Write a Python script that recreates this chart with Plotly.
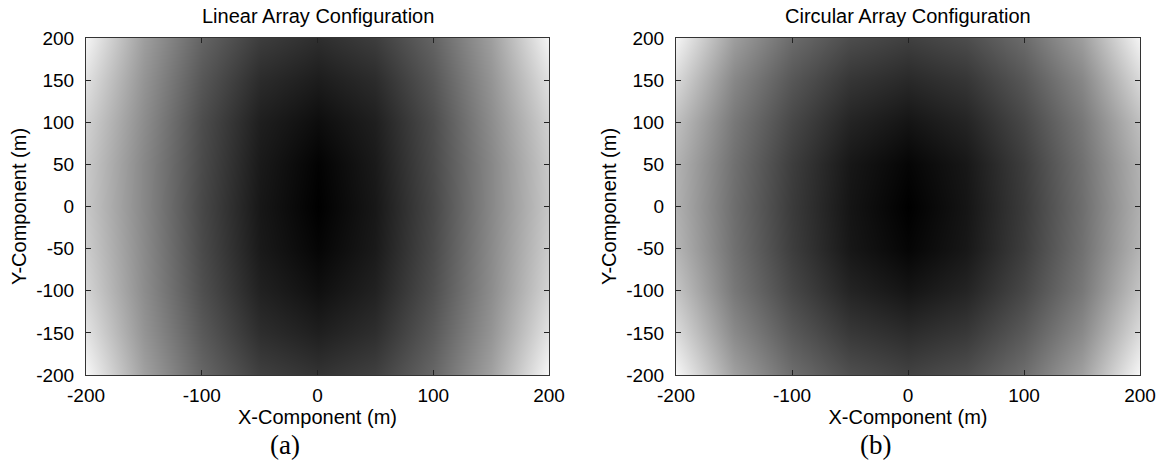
import plotly.graph_objects as go

# grid coordinates (m)
x_m = [-200, -150, -100, -50, 0, 50, 100, 150, 200]
y_m = [-200, -150, -100, -50, 0, 50, 100, 150, 200]

x_ticks = [-200, -100, 0, 100, 200]
x_tick_text = ["-200", "-100", "0", "100", "200"]
y_ticks = [-200, -150, -100, -50, 0, 50, 100, 150, 200]
y_tick_text = ["-200", "-150", "-100", "-50", "0", "50", "100", "150", "200"]

# (a) Linear array: normalised grey level, rows from y=-200 to y=200
lin_y_m200 = [0.97, 0.63, 0.40, 0.25, 0.20, 0.25, 0.40, 0.63, 0.97]
lin_y_m150 = [0.89, 0.58, 0.35, 0.18, 0.12, 0.18, 0.35, 0.58, 0.89]
lin_y_m100 = [0.83, 0.55, 0.31, 0.13, 0.06, 0.13, 0.31, 0.55, 0.83]
lin_y_m50  = [0.80, 0.54, 0.29, 0.10, 0.02, 0.10, 0.29, 0.54, 0.80]
lin_y_0    = [0.78, 0.53, 0.28, 0.09, 0.00, 0.09, 0.28, 0.53, 0.78]
lin_y_50   = [0.79, 0.53, 0.29, 0.10, 0.01, 0.10, 0.29, 0.53, 0.79]
lin_y_100  = [0.82, 0.55, 0.30, 0.12, 0.05, 0.12, 0.30, 0.55, 0.82]
lin_y_150  = [0.88, 0.58, 0.34, 0.17, 0.11, 0.17, 0.34, 0.58, 0.88]
lin_y_200  = [0.96, 0.62, 0.39, 0.24, 0.18, 0.24, 0.39, 0.62, 0.96]

# (b) Circular array
cir_y_m200 = [0.97, 0.63, 0.43, 0.31, 0.26, 0.31, 0.43, 0.63, 0.97]
cir_y_m150 = [0.86, 0.54, 0.35, 0.22, 0.17, 0.22, 0.35, 0.54, 0.86]
cir_y_m100 = [0.77, 0.47, 0.28, 0.14, 0.08, 0.14, 0.28, 0.47, 0.77]
cir_y_m50  = [0.71, 0.44, 0.24, 0.09, 0.02, 0.09, 0.24, 0.44, 0.71]
cir_y_0    = [0.69, 0.43, 0.23, 0.08, 0.00, 0.08, 0.23, 0.43, 0.69]
cir_y_50   = [0.70, 0.44, 0.24, 0.09, 0.02, 0.09, 0.24, 0.44, 0.70]
cir_y_100  = [0.75, 0.47, 0.28, 0.14, 0.08, 0.14, 0.28, 0.47, 0.75]
cir_y_150  = [0.85, 0.53, 0.34, 0.21, 0.16, 0.21, 0.34, 0.53, 0.85]
cir_y_200  = [0.96, 0.62, 0.42, 0.30, 0.25, 0.30, 0.42, 0.62, 0.96]

linear_z = [lin_y_m200, lin_y_m150, lin_y_m100, lin_y_m50, lin_y_0,
            lin_y_50, lin_y_100, lin_y_150, lin_y_200]
circular_z = [cir_y_m200, cir_y_m150, cir_y_m100, cir_y_m50, cir_y_0,
              cir_y_50, cir_y_100, cir_y_150, cir_y_200]

titles = ["Linear Array Configuration", "Circular Array Configuration"]
labels = ["(a)", "(b)"]

W, H = 1162, 465
gray = [[0, "rgb(0,0,0)"], [1, "rgb(255,255,255)"]]
FONT = "Liberation Sans, Arial, sans-serif"


def px_x(p):
    return p / W


def px_y(p):
    return (H - p) / H


fig = go.Figure()
fig.add_trace(go.Heatmap(x=x_m, y=y_m, z=linear_z, colorscale=gray, zmin=0, zmax=1,
                         zsmooth="best", showscale=False, xaxis="x", yaxis="y",
                         hoverinfo="skip"))
fig.add_trace(go.Heatmap(x=x_m, y=y_m, z=circular_z, colorscale=gray, zmin=0, zmax=1,
                         zsmooth="best", showscale=False, xaxis="x2", yaxis="y2",
                         hoverinfo="skip"))

dom_y = [px_y(375), px_y(38)]
dom_x1 = [px_x(86), px_x(549)]
dom_x2 = [px_x(676), px_x(1140)]


def xax(dom, anchor):
    return dict(domain=dom, anchor=anchor, range=[-200, 200], tickvals=x_ticks,
                ticktext=x_tick_text, automargin=False,
                ticks="inside", ticklen=5, tickcolor="#222", showline=True,
                linecolor="#333", linewidth=1, mirror="ticks", showgrid=False,
                zeroline=False, tickfont=dict(family=FONT, size=19, color="black"),
                ticklabelstandoff=3,
                title=dict(text="X-Component (m)", standoff=2,
                           font=dict(family=FONT, size=20, color="black")))


def yax(anchor):
    return dict(domain=dom_y, anchor=anchor, range=[-200, 200], tickvals=y_ticks,
                ticktext=y_tick_text, automargin=False,
                ticks="inside", ticklen=5, tickcolor="#222", showline=True,
                linecolor="#333", linewidth=1, mirror="ticks", showgrid=False,
                zeroline=False, tickfont=dict(family=FONT, size=19, color="black"),
                ticklabelstandoff=7,
                title=dict(text="Y-Component (m)", standoff=4,
                           font=dict(family=FONT, size=20, color="black")))


fig.update_layout(
    width=W, height=H, margin=dict(l=0, r=0, t=0, b=0),
    paper_bgcolor="white", plot_bgcolor="white",
    xaxis=xax(dom_x1, "y"), yaxis=yax("x"),
    xaxis2=xax(dom_x2, "y2"), yaxis2=yax("x2"),
    showlegend=False,
)

centers = [(dom_x1[0] + dom_x1[1]) / 2, (dom_x2[0] + dom_x2[1]) / 2]
for c, t in zip(centers, titles):
    fig.add_annotation(text=t, x=c, y=px_y(16), xref="paper", yref="paper",
                       xanchor="center", yanchor="middle", showarrow=False,
                       font=dict(family=FONT, size=20, color="black"))
for xp, lab in zip([px_x(285), px_x(875)], labels):
    fig.add_annotation(text=lab, x=xp, y=px_y(445), xref="paper", yref="paper",
                       xanchor="center", yanchor="middle", showarrow=False,
                       font=dict(family="Liberation Serif, Times New Roman, serif",
                                 size=27, color="black"))

# remove the default 8px page margin so the figure fills the window exactly
fig.write_html("out.html", config={"displayModeBar": False},
               post_script="document.body.style.margin='0px';")
